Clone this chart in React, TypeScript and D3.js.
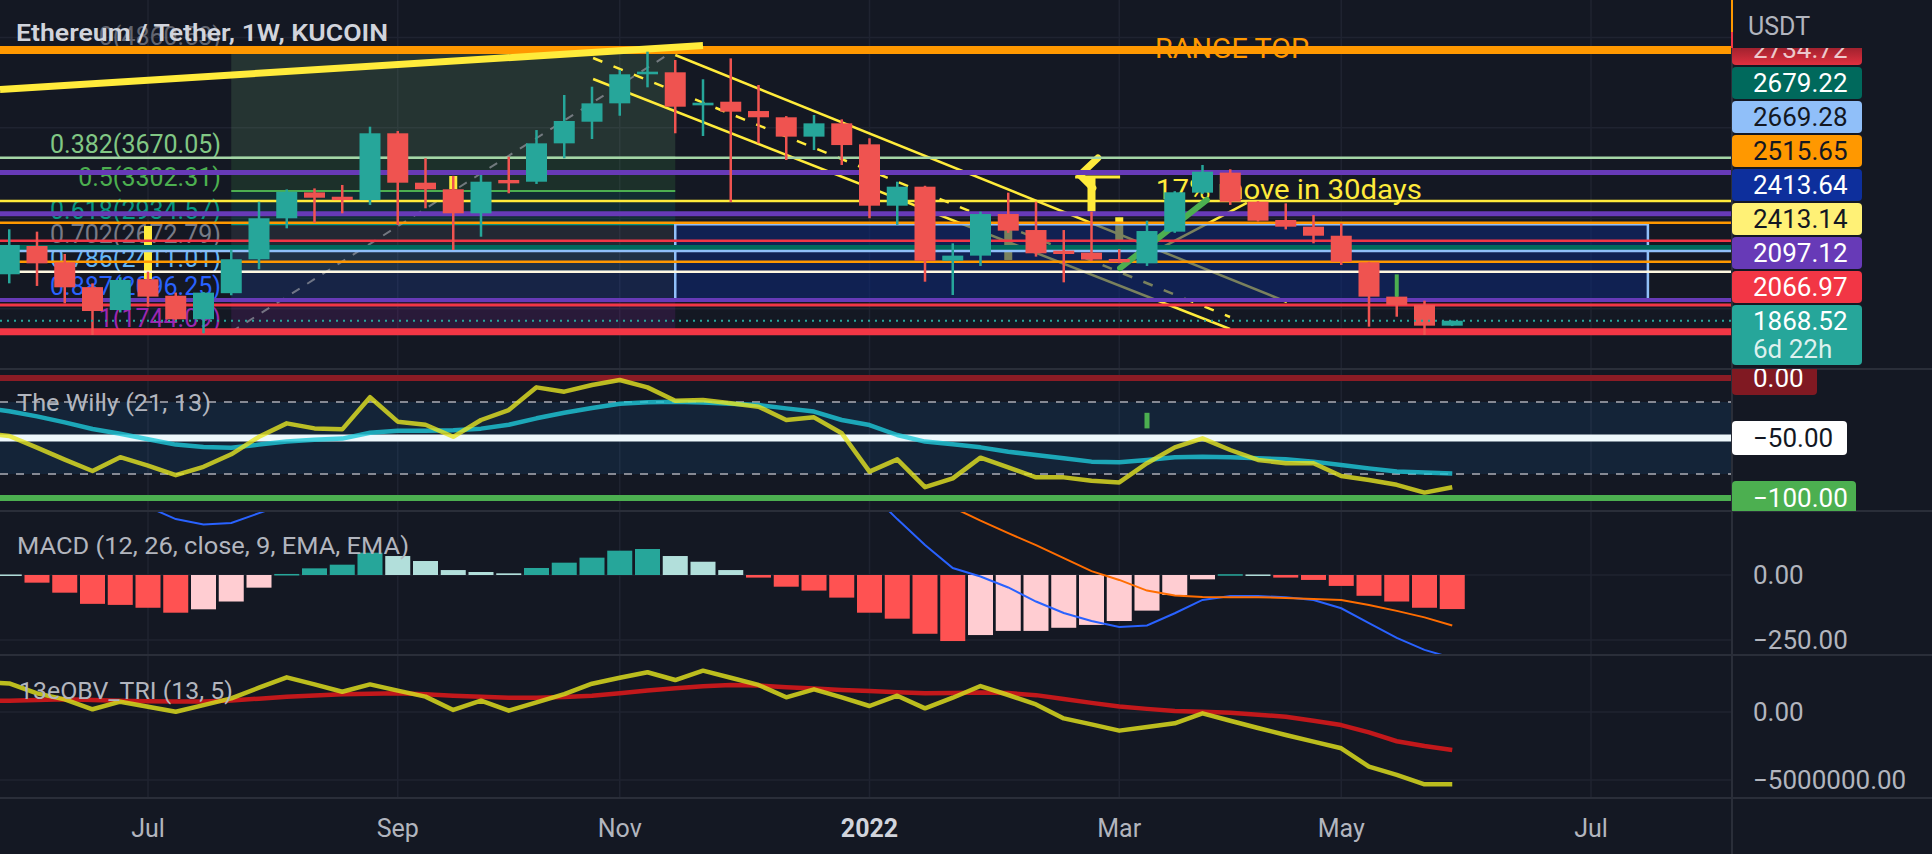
import React from "react";
import * as d3 from "d3";

// ---------------- DATA ----------------
const WEEK_MS = 7 * 24 * 3600 * 1000;
const START_MS = Date.UTC(2021, 4, 31); // first weekly candle (Mon 31 May 2021)
const dAt = (i: number) => new Date(START_MS + i * WEEK_MS);

const opens = [2382,2695,2514,2240,1987,2327,2145,1885,2173,2548,3001,3287,3239,3202,3940,3394,3321,3056,3424,3405,3829,4068,4271,4592,4614,4249,4289,4186,4117,3903,4050,3818,3140,3350,2532,2588,3048,2871,2643,2621,2551,2503,2853,3284,3505,3184,2982,2908,2808,2514,2135,2043,1814];
const highs = [2879,2853,2606,2282,2350,2410,2180,2185,2650,3184,3320,3331,3369,4013,3965,3664,3470,3479,3681,3976,4363,4455,4641,4842,4750,4537,4768,4474,4130,4142,4094,3885,3405,3360,2724,3074,3284,3184,2871,3074,2660,2974,3300,3590,3542,3190,3166,3037,2945,2520,2160,2090,1870];
const lows = [2282,2253,2061,1711,1960,2024,1870,1730,2150,2437,2890,2952,3056,3148,2927,3111,2650,2797,3277,3380,3664,3877,4134,4448,3940,3910,3180,3829,3645,3755,3590,3001,2927,2300,2153,2474,2840,2577,2293,2530,2505,2474,2840,3270,3148,2965,2878,2724,2485,1803,1913,1711,1810];
const closes = [2706,2503,2238,1976,2319,2135,1885,2179,2548,3001,3294,3228,3202,3940,3394,3321,3056,3405,3387,3829,4076,4271,4592,4621,4234,4278,4179,4117,3903,4050,3810,3140,3350,2532,2588,3048,2864,2614,2606,2545,2514,2860,3288,3516,3184,2974,2908,2808,2521,2135,2043,1814,1868.52];

// indicator lines start one week earlier (index -1)
const willyR = [-46,-48.3,-58,-68,-77.5,-66,-73,-81,-74,-63.6,-49,-37.8,-42,-42.8,-16,-36.4,-39,-49,-35,-26.7,-7.8,-11.4,-5.8,-1.7,-7.8,-18.9,-18.3,-21,-23.9,-35,-32.8,-46,-78,-67.8,-91,-83.6,-66.4,-74.4,-82.8,-82.8,-85.6,-87,-71,-57.8,-50.3,-60,-68.3,-71,-71,-81.7,-85,-89,-95.5,-91];
const willySignal = [-24.5,-27.7,-32,-37,-42.5,-46.5,-51,-55.5,-57.5,-58.2,-55.5,-53,-51.5,-50.5,-45.6,-44,-43.9,-43.5,-42.2,-39,-33.6,-29,-25,-21.5,-20.3,-19.8,-20.4,-21.5,-22.5,-25.3,-28,-35,-39.2,-47.5,-53,-55.3,-57.8,-61.4,-64.2,-66.9,-69.7,-70.3,-68.3,-66.1,-65.6,-66.1,-66.9,-67.8,-69.7,-72.5,-75.3,-78,-78.8,-79.5];

const macdHist = [2,-29.5,-68,-111,-115,-126,-145,-132,-102,-48.7,4,25.6,39.7,85.8,73,53.8,19,11.5,6.4,27,47.4,66.7,93.6,100,73,51,19,-10,-45,-60,-87,-145,-168,-226,-254,-231,-215,-215,-203,-192,-177,-137,-77,-16.7,3,2,-10,-19,-42,-80,-102,-126,-131];
const macdLine = [560,520,465,400,330,262,215,194,200,238,275,300,325,395,420,425,410,405,405,435,475,525,590,625,630,620,600,560,510,470,420,320,215,115,27,-6,-48,-102,-146,-177,-200,-194,-147,-96,-81,-81,-86,-96,-128,-185,-242,-288,-319];
const macdSignal = [540,550,533,511,445,388,360,326,302,287,271,274,285,309,347,371,391,393,399,408,428,458,496,525,557,569,581,570,555,530,507,465,383,341,260,209,161,115,65,15,-19,-60,-79,-85,-86,-86,-88,-92,-96,-115,-138,-163,-194];

const obvLine = [2.2,2.1,1.37,0.93,0.2,0.76,0.39,0.02,0.51,1.0,1.79,2.55,2.03,1.49,2.03,1.57,1.13,0.15,0.83,0.1,0.71,1.32,2.08,2.52,2.92,2.35,3.04,2.52,1.99,1.08,1.67,1.08,0.44,1.2,0.27,1.05,1.91,1.25,0.56,-0.47,-0.91,-1.37,-1.1,-0.83,-0.1,-0.64,-1.18,-1.69,-2.18,-2.67,-4.02,-4.63,-5.32,-5.32];
const obvSignal = [0.8,0.83,0.88,0.93,0.88,0.82,0.79,0.77,0.77,0.85,0.98,1.13,1.22,1.3,1.35,1.37,1.3,1.2,1.12,1.05,1.05,1.1,1.2,1.38,1.58,1.75,1.9,1.99,1.95,1.82,1.72,1.62,1.55,1.45,1.38,1.4,1.43,1.39,1.24,0.95,0.67,0.4,0.23,0.08,0.01,-0.06,-0.2,-0.35,-0.65,-0.96,-1.5,-2.15,-2.5,-2.79];

const monthTickDates = ["2021-07-05","2021-09-06","2021-11-01","2022-01-03","2022-03-07","2022-05-02","2022-07-04"];
const monthTickLabels = ["Jul","Sep","Nov","2022","Mar","May","Jul"];

const fibLevels = [0,0.382,0.5,0.618,0.702,0.786,0.887,1];
const fibPrices = [4860.53,3670.05,3302.31,2934.57,2672.79,2411.01,2096.25,1744.09];
const fibColors = ["#787b86","#81c784","#4caf50","#089981","#787b86","#64b5f6","#2962ff","#9c27b0"];
const fibRange = [8, 24];

const levelPrices = [4860.53,3670.05,3507,3192,3051,2952,2753,2679.22,2639,2521,2411,2098,2043,1746];
const levelColors = ["#ff9800","#a5d6a7","#673ab7","#ffeb3b","#673ab7","#ff9800","#f23645","#00695c","#90bff9","#ff9800","#fff8e1","#673ab7","#f23645","#f23645"];
const levelWidths = [8,2.5,5,2.5,5,2.5,2.5,5,2.5,2.5,2.5,4,3,7];

const lastPrice = 1868.52;

const thickTrend = [[-0.333,4424],[25.0,4910]];
const channelUpper = [[24.0,4805],[46.04,2076]];
const channelLower = [[21.04,4540],[43.99,1777]];
const channelMid = [[21.04,4772],[43.99,1910]];
const upLine = [[41.36,2650],[44.6,3170]];
const arrowLine = [[40.03,2451],[43.16,3203]];
const fibDiag = [[8,1744.09],[24,4860.53]];
const glyphStroke = [[39.23,3667],[38.58,3479],[39.05,3335]];
const glyphBar = [[38.41,3457],[40.03,3457]];

const boxRange = { i0: 24, i1: 59.05, top: 2934.57, bottom: 2096.25 };

const yellowBarIdx = [5,16,36,39,40];
const yellowBarTop = [2916,3468,2871,3460,3012];
const yellowBarBottom = [2330,3321,2540,3074,2761];
const greenWick = { i: 50, top: 2381, bottom: 2134 };
const willyMarker = { i: 41, top: -29, bottom: -42 };

const tagValues = ["2734.72","2679.22","2669.28","2515.65","2413.64","2413.14","2097.12","2066.97","1868.52"];
const tagColors = ["#cc2b3d","#00695c","#90bff9","#ff9800","#0d2f9c","#fff176","#673ab7","#f23645","#26a69a"];
const tagText = ["#ffffff","#ffffff","#131722","#131722","#ffffff","#131722","#ffffff","#ffffff","#ffffff"];
const countdown = "6d 22h";

const willyTags = [
  { v: 0, label: "0.00", bg: "#801922", fg: "#ffffff", w: 85 },
  { v: -50, label: "\u221250.00", bg: "#ffffff", fg: "#131722", w: 115 },
  { v: -100, label: "\u2212100.00", bg: "#4caf50", fg: "#ffffff", w: 124 },
];
const macdTicks = [0, -250];
const macdTickLabels = ["0.00", "\u2212250.00"];
const obvTicks = [0, -5];
const obvTickLabels = ["0.00", "\u22125000000.00"];

// ---------------- LAYOUT ----------------
const W = 1932, H = 854, PR = 1732;
const BG = "#141823";
const GRID = "#1f2330";
const SEP = "#2a2e39";
const FONT = "Roboto, 'Noto Sans', 'DejaVu Sans', sans-serif";
const P = { main: [0, 369], willy: [369, 511], macd: [511, 655], obv: [655, 798] };

export default function App() {
  const x = d3.scaleUtc().domain([dAt(-1 / 3), dAt(62.081)]).range([0, PR]);
  const xi = (i: number) => x(dAt(i));
  const y = d3.scaleLinear().domain([fibPrices[7], fibPrices[0]]).range([332, 50]);
  const yW = d3.scaleLinear().domain([0, -100]).range([378, 498]);
  const yM = d3.scaleLinear().domain([0, -250]).range([575, 640]);
  const yO = d3.scaleLinear().domain([0, -5]).range([712, 780]);

  const seg = (pts: number[][]) => d3.line<number[]>().x(d => xi(d[0])).y(d => y(d[1]))(pts) || "";
  const series = (vals: number[], ys: (v: number) => number, offset: number) =>
    d3.line<number>().x((_, k) => xi(k + offset)).y(v => ys(v))(vals) || "";

  const tickX = monthTickDates.map(s => x(new Date(s + "T00:00:00Z")));
  const bodyW = 21;

  const histColor = (k: number) => {
    const v = macdHist[k];
    const prev = k > 0 ? macdHist[k - 1] : null;
    if (v >= 0) return prev !== null && v > prev ? "#26a69a" : "#b2dfdb";
    return prev !== null && v < prev ? "#ff5252" : "#ffcdd2";
  };

  const fx0 = xi(fibRange[0]), fx1 = xi(fibRange[1]);

  return (
    <svg width={W} height={H} style={{ position: "fixed", left: 0, top: 0, display: "block" }} fontFamily={FONT}>
      <defs>
        <clipPath id="cMain"><rect x={0} y={P.main[0]} width={PR} height={P.main[1] - P.main[0]} /></clipPath>
        <clipPath id="cWilly"><rect x={0} y={P.willy[0]} width={PR} height={P.willy[1] - P.willy[0]} /></clipPath>
        <clipPath id="cMacd"><rect x={0} y={P.macd[0]} width={PR} height={P.macd[1] - P.macd[0]} /></clipPath>
        <clipPath id="cObv"><rect x={0} y={P.obv[0]} width={PR} height={P.obv[1] - P.obv[0]} /></clipPath>
        <clipPath id="cTags"><rect x={PR} y={48} width={W - PR} height={P.main[1] - 48 - 4} /></clipPath>
        <clipPath id="cWTags"><rect x={PR} y={P.willy[0]} width={W - PR} height={P.willy[1] - P.willy[0]} /></clipPath>
        <linearGradient id="gTopTag" x1="0" y1="0" x2="0" y2="1">
          <stop offset="0" stopColor="#6b1520" />
          <stop offset="1" stopColor="#e0303f" />
        </linearGradient>
      </defs>
      <rect x={0} y={0} width={W} height={H} fill={BG} />

      {/* vertical grid */}
      {tickX.map((tx, k) => (
        <line key={"vg" + k} x1={tx} x2={tx} y1={0} y2={P.obv[1]} stroke={GRID} strokeWidth={1.5} />
      ))}

      {/* ================= MAIN PANEL ================= */}
      <g clipPath="url(#cMain)">
        {[5000, 4000, 3000, 2000].map(p => (
          <line key={"hg" + p} x1={0} x2={PR} y1={y(p)} y2={y(p)} stroke={GRID} strokeWidth={1.5} />
        ))}
        {/* fib fills */}
        {fibPrices.slice(1).map((p, k) => (
          <rect key={"ff" + k} x={fx0} width={fx1 - fx0} y={y(fibPrices[k])} height={y(p) - y(fibPrices[k])}
            fill={fibColors[k + 1]} fillOpacity={0.16} />
        ))}
        {fibPrices.map((p, k) => (
          <line key={"fl" + k} x1={fx0} x2={fx1} y1={y(p)} y2={y(p)} stroke={fibColors[k]} strokeWidth={2} />
        ))}
        {/* fib labels */}
        {fibPrices.map((p, k) => (
          <text key={"flb" + k} x={221} y={y(p) - 5} textAnchor="end" fontSize={25} fill={fibColors[k]}
            fillOpacity={k === 0 ? 0.8 : 1}>
            {`${fibLevels[k]}(${p.toFixed(2)})`}
          </text>
        ))}
        <path d={seg(fibDiag)} stroke="#9598a1" strokeOpacity={0.7} strokeWidth={2} strokeDasharray="9 9" fill="none" />

        {/* channel & trend lines */}
        <path d={seg(channelUpper)} stroke="#ffeb3b" strokeWidth={2.5} fill="none" />
        <path d={seg(channelLower)} stroke="#ffeb3b" strokeWidth={2.5} fill="none" />
        <path d={seg(channelMid)} stroke="#ffeb3b" strokeWidth={2.5} strokeDasharray="10 12" fill="none" />
        <path d={seg(upLine)} stroke="#ffeb3b" strokeWidth={2.5} fill="none" />

        {/* yellow marker bars */}
        {yellowBarIdx.map((i, k) => (
          <rect key={"yb" + k} x={xi(i) - 4} width={8} y={y(yellowBarTop[k])}
            height={y(yellowBarBottom[k]) - y(yellowBarTop[k])} fill="#ffeb3b" />
        ))}
        <path d={seg(glyphStroke)} stroke="#ffeb3b" strokeWidth={7} strokeLinecap="round" strokeLinejoin="round" fill="none" />
        <path d={seg(glyphBar)} stroke="#ffeb3b" strokeWidth={3} fill="none" />

        {/* range box */}
        <rect x={xi(boxRange.i0)} y={y(boxRange.top)} width={xi(boxRange.i1) - xi(boxRange.i0)}
          height={y(boxRange.bottom) - y(boxRange.top)} fill="#0d2a7a" fillOpacity={0.55}
          stroke="#90bff9" strokeWidth={2.5} />

        {/* texts under lines/candles */}
        <text x={xi(41.29)} y={y(4772)} fontSize={28} fill="#ff9800" textLength={154} lengthAdjust="spacingAndGlyphs">RANGE TOP</text>
        <text x={xi(41.32)} y={y(3214)} fontSize={28} fill="#ffeb3b" textLength={266} lengthAdjust="spacingAndGlyphs">17% move in 30days</text>

        {/* horizontal levels */}
        {levelPrices.map((p, k) => (
          <line key={"lv" + k} x1={0} x2={PR} y1={y(p)} y2={y(p)} stroke={levelColors[k]} strokeWidth={levelWidths[k]} />
        ))}

        <path d={seg(thickTrend)} stroke="#ffeb3b" strokeWidth={7} fill="none" />
        <path d={seg(arrowLine)} stroke="#4caf50" strokeWidth={6} strokeLinecap="round" fill="none" />

        {/* candles */}
        {opens.map((o, i) => {
          const c = closes[i];
          const up = c >= o;
          const col = up ? "#26a69a" : "#ef5350";
          const cx = xi(i);
          const yT = y(Math.max(o, c));
          const yB = y(Math.min(o, c));
          return (
            <g key={"c" + i}>
              <line x1={cx} x2={cx} y1={y(highs[i])} y2={y(lows[i])} stroke={col} strokeWidth={2.5} />
              <rect x={cx - bodyW / 2} y={yT} width={bodyW} height={Math.max(2.5, yB - yT)} fill={col} />
            </g>
          );
        })}
        <line x1={xi(greenWick.i)} x2={xi(greenWick.i)} y1={y(greenWick.top)} y2={y(greenWick.bottom)}
          stroke="#4caf50" strokeWidth={4} />

        <line x1={0} x2={PR} y1={y(lastPrice)} y2={y(lastPrice)} stroke="#26a69a" strokeWidth={2} strokeDasharray="2 5" />
      </g>

      {/* title */}
      <text x={16} y={41} fontSize={24} fontWeight={600} fill="#d1d4dc" textLength={372} lengthAdjust="spacingAndGlyphs">
        Ethereum / Tether, 1W, KUCOIN
      </text>

      {/* ================= WILLY PANEL ================= */}
      <g clipPath="url(#cWilly)">
        <rect x={0} width={PR} y={yW(-20)} height={yW(-80) - yW(-20)} fill="#2196f3" fillOpacity={0.1} />
        <line x1={0} x2={PR} y1={yW(0)} y2={yW(0)} stroke="#8c1c25" strokeWidth={6} />
        <line x1={0} x2={PR} y1={yW(-20)} y2={yW(-20)} stroke="#868993" strokeWidth={2} strokeDasharray="8 8" />
        <line x1={0} x2={PR} y1={yW(-80)} y2={yW(-80)} stroke="#868993" strokeWidth={2} strokeDasharray="8 8" />
        <line x1={0} x2={PR} y1={yW(-50)} y2={yW(-50)} stroke="#eef8fc" strokeWidth={7} />
        <line x1={0} x2={PR} y1={yW(-100)} y2={yW(-100)} stroke="#4caf50" strokeWidth={6} />
        <path d={series(willySignal, yW, -1)} stroke="#1ec8d8" strokeOpacity={0.8} strokeWidth={4.5} fill="none" strokeLinejoin="round" />
        <path d={series(willyR, yW, -1)} stroke="#e5e522" strokeOpacity={0.8} strokeWidth={4.5} fill="none" strokeLinejoin="round" />
        <rect x={xi(willyMarker.i) - 2.5} width={5} y={yW(willyMarker.top)} height={yW(willyMarker.bottom) - yW(willyMarker.top)} fill="#4caf50" />
        <text x={17} y={411} fontSize={24} fill="#b2b5be" textLength={194} lengthAdjust="spacingAndGlyphs">The Willy (21, 13)</text>
      </g>

      {/* ================= MACD PANEL ================= */}
      <g clipPath="url(#cMacd)">
        {macdTicks.map(t => (
          <line key={"mg" + t} x1={0} x2={PR} y1={yM(t)} y2={yM(t)} stroke={GRID} strokeWidth={1.5} />
        ))}
        {macdHist.map((v, k) => {
          const cx = xi(k);
          const y0 = yM(0), y1 = yM(v);
          return (
            <rect key={"h" + k} x={cx - 12.5} width={25} y={Math.min(y0, y1)} height={Math.max(1.5, Math.abs(y1 - y0))} fill={histColor(k)} />
          );
        })}
        <path d={series(macdLine, yM, 0)} stroke="#2962ff" strokeWidth={2} fill="none" />
        <path d={series(macdSignal, yM, 0)} stroke="#ff6d00" strokeWidth={2} fill="none" />
        <text x={17} y={554} fontSize={24} fill="#b2b5be" textLength={392} lengthAdjust="spacingAndGlyphs">MACD (12, 26, close, 9, EMA, EMA)</text>
      </g>

      {/* ================= OBV PANEL ================= */}
      <g clipPath="url(#cObv)">
        {obvTicks.map(t => (
          <line key={"og" + t} x1={0} x2={PR} y1={yO(t)} y2={yO(t)} stroke={GRID} strokeWidth={1.5} />
        ))}
        <path d={series(obvSignal, yO, -1)} stroke="#c2181b" strokeWidth={4.5} fill="none" strokeLinejoin="round" />
        <path d={series(obvLine, yO, -1)} stroke="#d4d41e" strokeOpacity={0.88} strokeWidth={4.5} fill="none" strokeLinejoin="round" />
        <text x={19} y={699} fontSize={24} fill="#b2b5be" textLength={214} lengthAdjust="spacingAndGlyphs">13eOBV_TRI (13, 5)</text>
      </g>

      {/* separators */}
      {[P.main[1], P.willy[1], P.macd[1], P.obv[1]].map((sy, k) => (
        <line key={"sep" + k} x1={0} x2={W} y1={sy} y2={sy} stroke={SEP} strokeWidth={2} />
      ))}
      <line x1={PR} x2={PR} y1={0} y2={H} stroke={SEP} strokeWidth={2} />

      {/* ================= RIGHT AXIS ================= */}
      <text x={1748} y={35} fontSize={25} fill="#b2b5be">USDT</text>
      <line x1={PR} x2={PR} y1={0} y2={32} stroke="#ff9800" strokeWidth={2} />
      <line x1={PR} x2={PR} y1={32} y2={48} stroke="#f23645" strokeWidth={2} />
      <g clipPath="url(#cTags)">
        {tagValues.map((t, k) => {
          const top = 33 + k * 34;
          const h = k === tagValues.length - 1 ? 60 : 32;
          return (
            <g key={"tag" + k}>
              <rect x={PR} y={top} width={130} height={h} rx={4} fill={k === 0 ? "url(#gTopTag)" : tagColors[k]} />
              <text x={1753} y={top + 25} fontSize={26} fill={tagText[k]} fillOpacity={k === 0 ? 0.75 : 1}>{t}</text>
              {k === tagValues.length - 1 && (
                <text x={1753} y={top + 53} fontSize={26} fill={tagText[k]} fillOpacity={0.85}>{countdown}</text>
              )}
            </g>
          );
        })}
      </g>
      <g clipPath="url(#cWTags)">
        {willyTags.map((t, k) => (
          <g key={"wt" + k}>
            <rect x={PR} y={yW(t.v) - 17} width={t.w} height={34} rx={4} fill={t.bg} />
            <text x={1753} y={yW(t.v) + 9} fontSize={26} fill={t.fg}>{t.label}</text>
          </g>
        ))}
      </g>
      {macdTicks.map((t, k) => (
        <text key={"mt" + k} x={1753} y={yM(t) + 9} fontSize={26} fill="#b2b5be">{macdTickLabels[k]}</text>
      ))}
      {obvTicks.map((t, k) => (
        <text key={"ot" + k} x={1753} y={yO(t) + 9} fontSize={26} fill="#b2b5be">{obvTickLabels[k]}</text>
      ))}

      {/* ================= TIME AXIS ================= */}
      {monthTickLabels.map((lab, k) => (
        <text key={"xl" + k} x={tickX[k]} y={837} textAnchor="middle" fontSize={25}
          fontWeight={lab === "2022" ? 700 : 400} fill={lab === "2022" ? "#d1d4dc" : "#b2b5be"}>
          {lab}
        </text>
      ))}
    </svg>
  );
}
